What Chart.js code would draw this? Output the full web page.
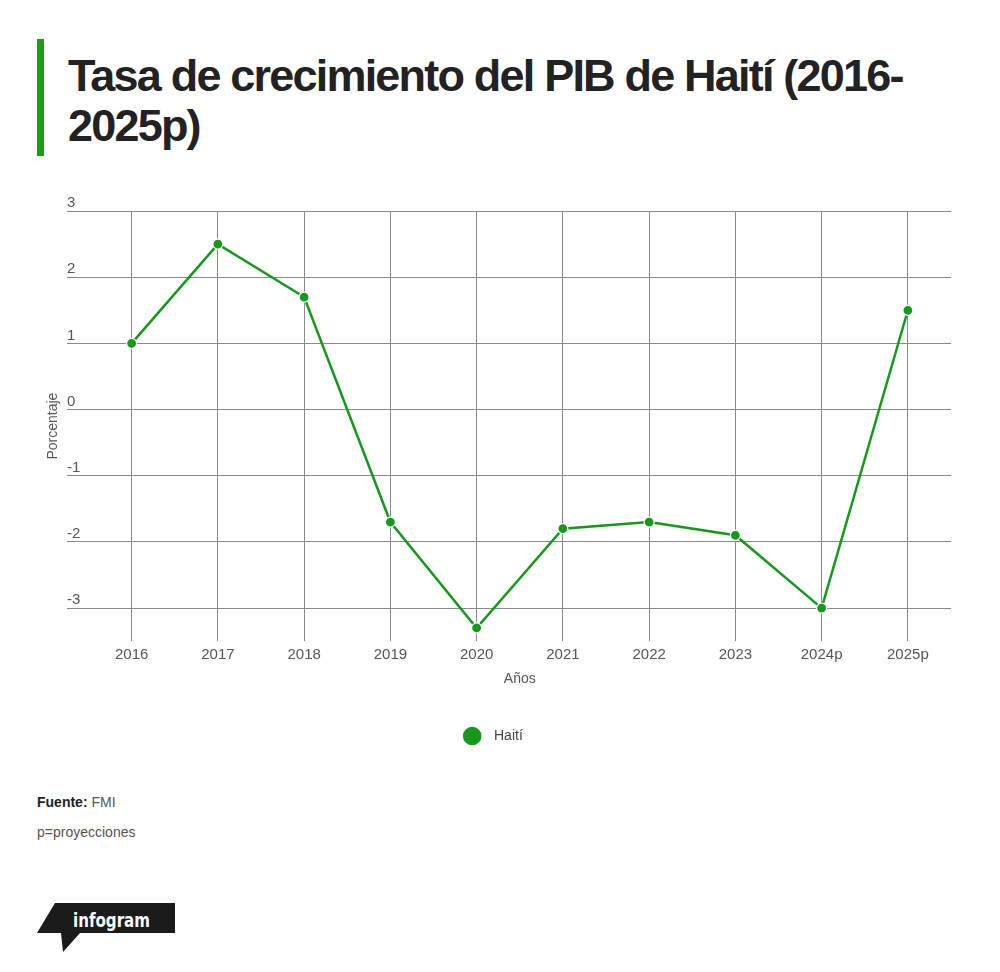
<!DOCTYPE html>
<html lang="es">
<head>
<meta charset="utf-8">
<script src="https://cdn.jsdelivr.net/npm/chart.js@4"></script>
<style>
  html, body { margin: 0; padding: 0; background: #fff; }
  body { width: 1000px; height: 972px; position: relative; overflow: hidden; font-family: "Liberation Sans", Arial, sans-serif; }
  .bar { position: absolute; left: 37px; top: 39px; width: 7px; height: 117px; background: #17a017; }
  .title { position: absolute; left: 68px; top: 51px; margin: 0; font-size: 45px; line-height: 50px; font-weight: 700; letter-spacing: -1.8px; color: #222; }
  .chart-box { position: absolute; left: 0; top: 190px; width: 1000px; height: 570px; }
  .note { position: absolute; left: 37px; font-size: 14px; line-height: 20px; color: #555; }
  .note b { color: #222; }
  .logo { position: absolute; left: 0; top: 890px; }
</style>
</head>
<body>
<div class="bar"></div>
<h1 class="title">Tasa de crecimiento del PIB de Haití (2016-<br>2025p)</h1>
<div class="chart-box"><canvas id="gdpChart"></canvas></div>
<div class="note" style="top:792px"><b>Fuente:</b> FMI</div>
<div class="note" style="top:822px">p=proyecciones</div>
<svg class="logo" width="200" height="70" viewBox="0 890 200 70">
  <polygon points="55,903 175,903 175,933 80,933 63,952 61,933 37,933" fill="#1b1b1b"/>
  <text x="73" y="927" textLength="77" lengthAdjust="spacingAndGlyphs" fill="#fff" font-family="'Liberation Sans Narrow','DejaVu Sans Condensed',sans-serif" font-weight="700" font-size="20">infogram</text>
</svg>
<script>
// GDP growth of Haiti
const years = ['2016', '2017', '2018', '2019', '2020', '2021', '2022', '2023', '2024p', '2025p'];
const growth = [1.0, 2.5, 1.7, -1.7, -3.3, -1.8, -1.7, -1.9, -3.0, 1.5];
const yTickValues = [-3, -2, -1, 0, 1, 2, 3];
const seriesName = 'Haití';

const green = '#14991a';
const gridColor = '#8a8a8a';

Chart.defaults.font.family = "'Liberation Sans', Arial, sans-serif";
Chart.defaults.color = '#555';

new Chart(document.getElementById('gdpChart'), {
    type: 'line',
    data: {
        labels: years,
        datasets: [{
            label: seriesName,
            data: growth,
            borderColor: green,
            backgroundColor: green,
            borderWidth: 2.5,
            pointRadius: 5,
            pointHoverRadius: 5,
            pointBorderColor: '#fff',
            pointBorderWidth: 1.2,
            pointBackgroundColor: green,
            tension: 0
        }]
    },
    options: {
        responsive: true,
        maintainAspectRatio: false,
        animation: false,
        layout: { padding: { left: 37, right: 49, top: 21, bottom: 7 } },
        plugins: {
            tooltip: { enabled: false },
            legend: {
                position: 'bottom',
                labels: {
                    usePointStyle: true,
                    pointStyle: 'circle',
                    color: '#444',
                    font: { size: 14 },
                    padding: 10,
                    // a little extra room between the dot and the name
                    generateLabels: chart => Chart.defaults.plugins.legend.labels.generateLabels(chart)
                        .map(item => Object.assign(item, { text: '  ' + item.text }))
                }
            }
        },
        scales: {
            x: {
                offset: true,
                grid: { color: gridColor, offset: false, drawTicks: false },
                border: { display: false },
                ticks: { padding: 5, font: { size: 15 }, color: '#555' },
                title: { display: true, text: 'Años', font: { size: 14 }, color: '#555', padding: { top: 2, bottom: 31 } }
            },
            y: {
                min: -3.5,
                max: 3,
                afterBuildTicks: scale => { scale.ticks = yTickValues.map(v => ({ value: v })); },
                afterFit: scale => { scale.width = 51.5; },
                grid: { color: gridColor, tickLength: 21.5, tickColor: gridColor },
                border: { display: false },
                ticks: { mirror: true, padding: -21.5, labelOffset: -8, font: { size: 15 }, color: '#555' },
                title: { display: true, text: 'Porcentaje', font: { size: 14 }, color: '#555', padding: { top: 8, bottom: 0 } }
            }
        }
    }
});
</script>
</body>
</html>
